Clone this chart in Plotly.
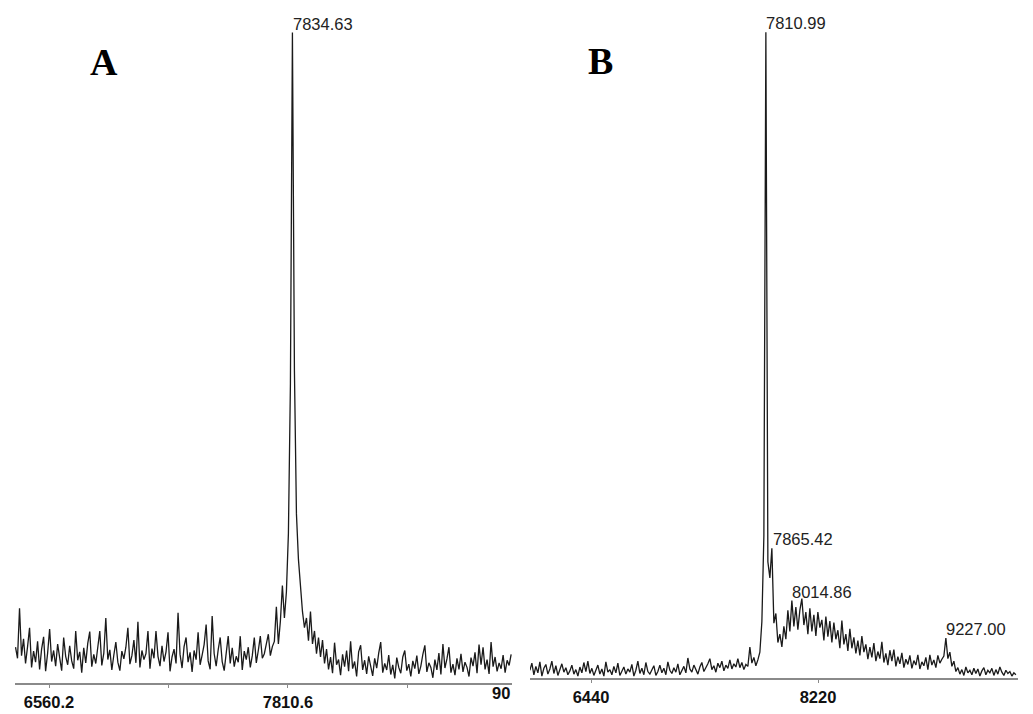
import plotly.graph_objects as go

# ---------------- data ----------------
# Panel A: m/z sampling grid and intensities (arbitrary units, base peak = 100)
a_mz_start = 6385.0
a_mz_step = 10.5
a_intensity = [
    5.5, 3.8, 11.5, 4.2, 6.8, 3.0, 5.6, 8.5, 2.4, 4.9,
    3.2, 6.4, 2.1, 5.2, 7.1, 1.8, 4.6, 8.3, 3.3, 5.0,
    2.6, 6.0, 3.9, 1.9, 7.0, 4.1, 2.8, 5.7, 3.4, 2.2,
    8.0, 3.5, 4.8, 1.6, 5.4, 3.1, 6.1, 7.9, 2.5, 4.4,
    3.0, 5.8, 8.0, 2.7, 4.6, 10.0, 3.6, 5.1, 2.0, 4.3,
    6.3, 3.2, 1.9, 4.9, 3.7, 5.5, 8.5, 2.9, 4.2, 6.6,
    3.1, 9.4, 2.4, 5.0, 3.6, 4.5, 8.0, 2.2, 5.3, 3.8,
    8.0, 4.1, 2.6, 5.7, 3.3, 4.8, 7.8, 1.8, 4.0, 5.2,
    3.0, 10.8, 4.4, 2.3, 5.6, 7.0, 3.2, 4.7, 1.7, 5.0,
    3.6, 7.8, 2.8, 4.3, 5.9, 9.0, 3.4, 2.1, 10.3, 4.5,
    2.6, 5.1, 7.0, 3.3, 1.9, 4.6, 7.2, 3.0, 5.4, 2.5,
    4.1, 3.2, 7.2, 2.0, 4.9, 3.6, 5.5, 2.4, 4.2, 7.0,
    3.1, 5.0, 7.2, 3.8, 4.5, 6.0, 7.5, 4.2, 5.6, 6.4,
    11.7, 6.0, 9.5, 15.0, 10.0, 14.0, 23.0, 46.0, 100.0, 48.0,
    26.0, 19.0, 14.5, 11.0, 8.5, 10.0, 6.5, 11.0, 6.0, 8.0,
    4.5, 7.0, 4.0, 6.6,
    3.0, 5.2, 2.1, 4.0, 1.5, 6.2, 2.8, 3.6, 1.2, 4.4,
    2.5, 5.0, 1.8, 6.4, 2.2, 3.3, 1.0, 4.8, 5.8, 2.0,
    3.5, 1.4, 4.1, 2.6, 1.1, 3.8, 2.3, 4.6, 6.3, 1.6,
    3.0, 2.0, 4.3, 1.3, 2.8, 0.7, 3.9, 2.4, 1.5, 4.0,
    5.0, 1.9, 2.9, 1.0, 3.4, 2.2, 4.2, 1.4, 2.6, 4.4,
    5.8, 1.7, 3.1, 2.4, 0.8, 3.6, 2.0, 4.6, 1.3, 6.0,
    2.3, 3.7, 5.5, 1.6, 2.9, 1.2, 3.8, 2.1, 4.5, 1.7,
    3.2, 2.4, 1.0, 3.9, 2.6, 4.7, 1.5, 5.9, 2.8, 5.5,
    2.1, 3.6, 1.4, 6.3, 2.5, 4.0, 1.8, 3.1, 2.2, 4.3,
    1.6, 3.5, 2.7, 4.4,
]

# Panel B
b_mz_start = 5960.8
b_mz_step = 15.68
b_intensity = [
    1.2, 2.3, 0.5, 1.8, 0.8, 2.5, 0.3, 1.5, 2.1, 0.6,
    1.4, 2.6, 0.7, 1.9, 0.4, 1.2, 2.2, 0.9, 1.6, 0.5,
    1.1, 2.0, 0.6, 1.3, 0.3, 1.7, 0.8, 2.4, 1.0, 2.6,
    0.7, 1.5, 0.4, 1.2, 2.0, 0.6, 1.4, 0.3, 2.5, 0.9,
    1.3, 0.5, 1.8, 0.8, 2.3, 0.4, 1.1, 1.7, 0.6, 1.4,
    0.9, 2.1, 0.3, 1.2, 2.6, 0.7, 1.5, 0.5, 2.4, 1.0,
    0.6, 1.3, 1.9, 0.4, 1.0, 2.0, 0.8, 1.5, 0.5, 2.5,
    1.2, 0.7, 1.6, 0.9, 2.2, 0.5, 1.3, 1.8, 0.8, 3.1,
    1.4, 0.9, 2.0, 1.2, 0.6, 1.7, 2.4, 1.0, 1.5, 2.2,
    3.0, 1.3, 1.9, 0.9, 2.3, 1.6, 2.6, 1.1, 2.0, 1.5,
    2.8, 1.4, 2.2, 1.7, 3.0, 1.6, 2.4, 1.3, 2.1, 1.8,
    4.8, 2.3, 3.2, 1.9, 2.8, 4.0,
    8.7, 22.0, 100.0, 18.0, 15.5, 20.1, 8.5, 10.0, 5.5, 6.8,
    4.8, 8.0, 6.0, 10.5, 7.2, 12.0, 8.0, 11.0, 7.5, 10.5,
    12.3, 8.2, 10.2, 6.8, 10.8,
    7.2, 9.8, 6.5, 10.2, 7.8, 9.0, 5.8, 9.5, 6.4, 8.8,
    5.5, 8.6, 6.0, 7.4, 4.6, 8.9, 5.2, 6.8, 4.2, 7.6,
    4.6, 6.3, 3.8, 5.8, 3.5, 6.5, 4.0, 5.2, 2.9, 4.8,
    3.2, 5.4, 2.6, 4.1, 3.0, 5.6, 2.4, 3.8, 2.0, 4.3,
    2.6, 4.4, 1.8, 3.3, 2.2, 3.9, 1.6, 2.9, 2.1, 3.5,
    1.5, 2.7, 2.0, 3.6, 1.4, 2.5, 1.9, 3.2, 1.3, 3.6,
    2.0, 2.8, 1.6, 3.5, 2.3, 2.9, 3.4,
    6.2, 3.0, 4.0, 1.8, 2.6,
    1.0, 1.6, 0.6, 1.3, 0.4, 1.7, 0.8, 1.2, 0.5, 1.5,
    0.7, 1.4, 0.3, 1.1, 1.6, 0.5, 1.2, 0.8, 1.5, 0.4,
    1.3, 0.6, 1.7, 0.9, 0.4, 1.2, 0.7, 1.0, 0.3, 0.8, 0.5,
]

a_peak_labels = ["7834.63"]
b_peak_labels = ["7810.99", "7865.42", "8014.86", "9227.00"]

a_tick_values = [6560.2, 7810.6, 9061.0]
a_tick_labels = ["6560.2", "7810.6", "9061.0"]
a_minor_ticks = [7185.4, 8435.8]
b_tick_values = [6440, 8220, 10000]
b_tick_labels = ["6440", "8220", "10000"]

panel_letters = ["A", "B"]

# ---------------- build ----------------
a_mz = [a_mz_start + a_mz_step * i for i in range(len(a_intensity))]
b_mz = [b_mz_start + b_mz_step * i for i in range(len(b_intensity))]

W, H = 1033, 714
line_col = "#1a1a1a"

fig = go.Figure()
fig.add_trace(go.Scatter(x=a_mz, y=a_intensity, mode="lines",
                         line=dict(color=line_col, width=1.3), xaxis="x", yaxis="y",
                         hoverinfo="skip", showlegend=False))
fig.add_trace(go.Scatter(x=b_mz, y=b_intensity, mode="lines",
                         line=dict(color=line_col, width=1.3), xaxis="x2", yaxis="y2",
                         hoverinfo="skip", showlegend=False))

tick_font = dict(family="Liberation Sans, Arial, sans-serif", size=16.5, color="#111", weight="bold")
common_x = dict(showgrid=False, zeroline=False, showline=True, linecolor="#8a8a8a", linewidth=2,
                ticks="outside", ticklen=3, tickcolor="#8a8a8a", tickwidth=1,
                tickfont=tick_font, automargin=False, fixedrange=True)

a_range = [6382.3, 8983.0]
b_range = [5961.8, 9787.7]

fig.update_layout(
    width=W, height=H,
    margin=dict(l=0, r=0, t=0, b=0),
    paper_bgcolor="white", plot_bgcolor="white",
    showlegend=False,
    xaxis=dict(domain=[15 / W, 512 / W], range=a_range, anchor="y",
               tickmode="array", tickvals=a_tick_values, ticktext=a_tick_labels,
               minor=dict(tickmode="array", tickvals=a_minor_ticks, ticks="outside",
                          ticklen=3, tickcolor="#8a8a8a"),
               **common_x),
    yaxis=dict(domain=[(H - 683) / H, 1], range=[0, 105], visible=False, fixedrange=True),
    xaxis2=dict(domain=[530 / W, 1018 / W], range=b_range, anchor="y2",
                tickmode="array", tickvals=b_tick_values, ticktext=b_tick_labels,
                **common_x),
    yaxis2=dict(domain=[(H - 678) / H, 1], range=[0, 105], visible=False, fixedrange=True),
)

label_font = dict(family="Liberation Sans, Arial, sans-serif", size=16.5, color="#222")


def peak_y(mz, start, step, values):
    idx = int(round((mz - start) / step))
    return values[idx]


for lab in a_peak_labels:
    m = float(lab)
    fig.add_annotation(x=m, y=peak_y(m, a_mz_start, a_mz_step, a_intensity), xref="x", yref="y",
                       text=lab, showarrow=False, xanchor="left", yanchor="bottom",
                       xshift=-2, yshift=-2, font=label_font)
for lab in b_peak_labels:
    m = float(lab)
    fig.add_annotation(x=m, y=peak_y(m, b_mz_start, b_mz_step, b_intensity), xref="x2", yref="y2",
                       text=lab, showarrow=False, xanchor="left", yanchor="bottom",
                       xshift=-2, yshift=-2, font=label_font)

# truncated third tick label of panel A (cut off at the panel edge)
fig.add_annotation(x=a_range[1], y=(H - 693) / H, xref="x", yref="paper", text="90",
                   showarrow=False, xanchor="right", yanchor="middle", font=tick_font)

letter_font = dict(family="Liberation Serif, Times New Roman, serif", size=38, color="#000", weight="bold")
fig.add_annotation(x=104 / W, y=1 - 62 / H, xref="paper", yref="paper", text=panel_letters[0],
                   showarrow=False, xanchor="center", yanchor="middle", font=letter_font)
fig.add_annotation(x=600 / W, y=1 - 61 / H, xref="paper", yref="paper", text=panel_letters[1],
                   showarrow=False, xanchor="center", yanchor="middle", font=letter_font)

fig.write_html("out.html", config={"displayModeBar": False, "staticPlot": True},
               post_script="document.body.style.margin='0';document.body.style.overflow='hidden';")
